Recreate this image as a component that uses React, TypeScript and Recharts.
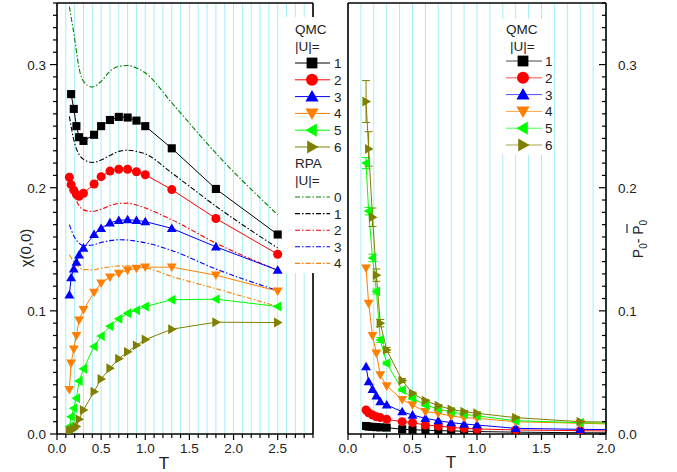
import React from "react";
import {
  LineChart,
  Line,
  XAxis,
  YAxis,
  CartesianGrid,
  ReferenceLine,
  ErrorBar,
} from "recharts";

const FONT = '"Liberation Sans", Arial, Helvetica, sans-serif';
const INK = "#222";
const GRID = "#a4eef5";

// temperatures of the QMC runs (both panels)
const temps = [0.14, 0.16, 0.19, 0.22, 0.25, 0.3, 0.42, 0.5, 0.6, 0.7, 0.8, 0.9, 1.0, 1.3, 1.8, 2.5];

// left panel: chi(0,0), QMC, |U| = 1..6
const chiU1 = [null, 0.276, 0.264, 0.25, 0.241, 0.238, 0.243, 0.25, 0.255, 0.2575, 0.257, 0.2545, 0.25, 0.232, 0.199, 0.162];
const chiU2 = [0.2085, 0.2025, 0.198, 0.1945, 0.193, 0.1955, 0.203, 0.209, 0.2135, 0.215, 0.215, 0.213, 0.2105, 0.1985, 0.175, 0.146];
const chiU3 = [0.113, 0.127, 0.134, 0.1395, 0.1455, 0.151, 0.162, 0.167, 0.1715, 0.1735, 0.174, 0.1735, 0.1725, 0.167, 0.152, 0.133];
const chiU4 = [0.036, 0.0575, 0.069, 0.08, 0.0925, 0.101, 0.115, 0.1225, 0.1275, 0.1305, 0.133, 0.1345, 0.1355, 0.1355, 0.129, 0.116];
const chiU5 = [0.006, 0.014, 0.021, 0.029, 0.043, 0.053, 0.071, 0.0795, 0.0875, 0.0935, 0.098, 0.1005, 0.1035, 0.109, 0.1095, 0.1035];
const chiU6 = [0.002, 0.003, 0.004, 0.006, 0.012, 0.0195, 0.0344, 0.0447, 0.0534, 0.0612, 0.0667, 0.072, 0.0767, 0.0851, 0.0908, 0.0905];

// left panel: RPA curves, |U| = 0..4
const rpaT = [0.14, 0.2, 0.25, 0.3, 0.4, 0.5, 0.6, 0.7, 0.8, 0.9, 1.0, 1.3, 1.8, 2.5];
const rpaU0 = [0.347, 0.321, 0.297, 0.2864, 0.2818, 0.2864, 0.2946, 0.2986, 0.2992, 0.2973, 0.2933, 0.269, 0.228, 0.178];
const rpaU1 = [0.258, 0.236, 0.227, 0.223, 0.2205, 0.2225, 0.2262, 0.2295, 0.2305, 0.2295, 0.2275, 0.212, 0.185, 0.151];
const rpaU2 = [0.205, 0.193, 0.1855, 0.182, 0.1808, 0.1825, 0.1855, 0.1872, 0.1875, 0.186, 0.1835, 0.174, 0.155, 0.133];
const rpaU3 = [0.17, 0.1595, 0.155, 0.153, 0.1535, 0.1555, 0.157, 0.1577, 0.1575, 0.1565, 0.1553, 0.149, 0.134, 0.1165];
const rpaU4 = [0.1455, 0.139, 0.1355, 0.1335, 0.1333, 0.1345, 0.1357, 0.1365, 0.1366, 0.136, 0.135, 0.128, 0.118, 0.1035];

// right panel: P0 - P0bar, QMC, |U| = 1..6
const dpU1 = [0.0065, 0.006, 0.0058, 0.0056, 0.0054, 0.0052, 0.0038, 0.0035, 0.003, 0.0027, 0.0025, 0.0023, 0.002, 0.0015, 0.001, 0.0008];
const dpU2 = [0.0195, 0.0173, 0.0154, 0.014, 0.0133, 0.0119, 0.01, 0.0092, 0.0073, 0.0065, 0.0054, 0.0046, 0.0041, 0.0033, 0.0027, 0.002];
const dpU3 = [0.0547, 0.0425, 0.0363, 0.0309, 0.0263, 0.0236, 0.0181, 0.0154, 0.0127, 0.0108, 0.0092, 0.0081, 0.0073, 0.0046, 0.0038, 0.003];
const dpU4 = [0.1347, 0.106, 0.08, 0.0656, 0.048, 0.039, 0.028, 0.0236, 0.0181, 0.0168, 0.0146, 0.0133, 0.0127, 0.01, 0.0087, 0.007];
const dpU5 = [0.22, 0.181, 0.143, 0.1157, 0.0764, 0.0575, 0.0358, 0.029, 0.0236, 0.0203, 0.018, 0.016, 0.0147, 0.0108, 0.0092, 0.008];
const dpU6 = [0.27, 0.2315, 0.176, 0.129, 0.09, 0.0683, 0.0435, 0.033, 0.0271, 0.023, 0.02, 0.0181, 0.0168, 0.0133, 0.01, 0.009];
// error bars (the T = 2.5 point lies off this panel, so none there)
const errU5 = [0.0045, 0.003, 0.003, 0.002, 0.002, 0.0015, 0.001, 0.001, 0.001, 0.001, 0.001, 0.001, 0.001, 0.001, 0.001, null];
const errU6 = [0.017, 0.014, 0.0075, 0.005, 0.003, 0.002, 0.0015, 0.001, 0.001, 0.001, 0.001, 0.001, 0.001, 0.001, 0.001, null];

const qmcLabels = ["1", "2", "3", "4", "5", "6"];
const rpaLabels = ["0", "1", "2", "3", "4"];

const QMC = [
  { key: "u1", color: "#000000", shape: "square" },
  { key: "u2", color: "#ff0000", shape: "circle" },
  { key: "u3", color: "#0000ff", shape: "up" },
  { key: "u4", color: "#ff8000", shape: "down" },
  { key: "u5", color: "#00ff00", shape: "left" },
  { key: "u6", color: "#808000", shape: "right" },
];
const RPA_COLORS = ["#008000", "#000000", "#ff0000", "#0000ff", "#ff8000"];
const DASH = "5 2 1.5 2";

const chiSeries = [chiU1, chiU2, chiU3, chiU4, chiU5, chiU6];
const dpSeries = [dpU1, dpU2, dpU3, dpU4, dpU5, dpU6];
const rpaSeries = [rpaU0, rpaU1, rpaU2, rpaU3, rpaU4];

const leftRows = temps.map((t, i) => {
  const row: any = { t };
  QMC.forEach((s, k) => (row[s.key] = chiSeries[k][i]));
  return row;
});
const rightRows = temps.map((t, i) => {
  const row: any = { t, e5: errU5[i], e6: errU6[i] };
  QMC.forEach((s, k) => (row[s.key] = dpSeries[k][i]));
  return row;
});
const rpaRows = rpaSeries.map((vals) => rpaT.map((t, i) => ({ t, v: vals[i] })));

const yTicks = Array.from({ length: 36 }, (_, i) => i / 100);
const xTicksLeft = Array.from({ length: 30 }, (_, i) => i / 10);
const xTicksRight = Array.from({ length: 21 }, (_, i) => i / 10);

function Marker({ shape, x, y, size, color }: any) {
  const h = size / 2;
  const pts = (a: number[][]) => a.map((p) => `${x + p[0]},${y + p[1]}`).join(" ");
  switch (shape) {
    case "square":
      return <rect x={x - h * 0.9} y={y - h * 0.9} width={size * 0.9} height={size * 0.9} fill={color} />;
    case "circle":
      return <circle cx={x} cy={y} r={h} fill={color} />;
    case "up":
      return <polygon points={pts([[0, -h * 1.1], [-h * 1.1, h * 0.8], [h * 1.1, h * 0.8]])} fill={color} />;
    case "down":
      return <polygon points={pts([[0, h * 1.1], [-h * 1.1, -h * 0.8], [h * 1.1, -h * 0.8]])} fill={color} />;
    case "left":
      return <polygon points={pts([[-h * 1.1, 0], [h * 0.8, -h * 1.1], [h * 0.8, h * 1.1]])} fill={color} />;
    default:
      return <polygon points={pts([[h * 1.1, 0], [-h * 0.8, -h * 1.1], [-h * 0.8, h * 1.1]])} fill={color} />;
  }
}

const makeDot = (shape: string, color: string) => (p: any) => {
  if (p.cx == null || p.cy == null || p.value == null || Number.isNaN(p.cy))
    return <g key={`n${p.index}`} />;
  return (
    <g key={`d${p.index}`}>
      <Marker shape={shape} x={p.cx} y={p.cy} size={9} color={color} />
    </g>
  );
};

const isMajor = (v: number, step: number) => Math.abs(v / step - Math.round(v / step)) < 1e-6;

function LeftTick(p: any) {
  const { x, y, payload } = p;
  const major = isMajor(payload.value, 0.1);
  return (
    <g>
      <line x1={x - (major ? 7 : 4)} x2={x} y1={y} y2={y} stroke="#000" strokeWidth={1.2} />
      {major && (
        <text x={x - 11} y={y + 5} textAnchor="end" fontSize={13.5} fontFamily={FONT} fill={INK}>
          {payload.value.toFixed(1)}
        </text>
      )}
    </g>
  );
}

function RightTick(p: any) {
  const { x, y, payload } = p;
  const major = isMajor(payload.value, 0.1);
  return (
    <g>
      <line x1={x - (major ? 7 : 4)} x2={x} y1={y} y2={y} stroke="#000" strokeWidth={1.2} />
      {major && (
        <text x={x + 12} y={y + 5} textAnchor="start" fontSize={13.5} fontFamily={FONT} fill={INK}>
          {payload.value.toFixed(1)}
        </text>
      )}
    </g>
  );
}

function BottomTick(p: any) {
  const { x, y, payload } = p;
  const major = isMajor(payload.value, 0.5);
  return (
    <g>
      <line x1={x} x2={x} y1={y} y2={y + (major ? 6 : 4)} stroke="#000" strokeWidth={1.2} />
      {major && (
        <text x={x} y={y + 19} textAnchor="middle" fontSize={13.5} fontFamily={FONT} fill={INK}>
          {payload.value.toFixed(1)}
        </text>
      )}
    </g>
  );
}

const AXIS = { stroke: "#000", strokeWidth: 1.6 };

function LeftPanel() {
  return (
    <LineChart width={340} height={472} data={leftRows} margin={{ top: 3, right: 27, bottom: 0, left: 0 }}>
      <CartesianGrid horizontal={false} stroke={GRID} strokeWidth={1} />
      <XAxis
        type="number"
        dataKey="t"
        domain={[0, 2.9]}
        ticks={xTicksLeft}
        interval={0}
        allowDataOverflow
        height={38}
        tickLine={false}
        tickSize={0}
        tickMargin={0}
        axisLine={AXIS}
        tick={(p: any) => <BottomTick {...p} />}
      />
      <YAxis
        type="number"
        domain={[0, 0.35]}
        ticks={yTicks}
        interval={0}
        allowDataOverflow
        width={57}
        tickLine={false}
        tickSize={0}
        tickMargin={0}
        axisLine={AXIS}
        tick={(p: any) => <LeftTick {...p} />}
      />
      <ReferenceLine y={0.35} stroke="#000" strokeWidth={1.6} />
      <ReferenceLine x={2.9} stroke="#000" strokeWidth={1.6} />
      {rpaRows.map((rows, k) => (
        <Line
          key={`rpa${k}`}
          data={rows}
          dataKey="v"
          type="monotone"
          stroke={RPA_COLORS[k]}
          strokeWidth={1.1}
          strokeDasharray={DASH}
          dot={false}
          activeDot={false}
          isAnimationActive={false}
        />
      ))}
      {QMC.map((s) => (
        <Line
          key={s.key}
          dataKey={s.key}
          type="linear"
          stroke={s.color}
          strokeWidth={1}
          dot={makeDot(s.shape, s.color)}
          activeDot={false}
          isAnimationActive={false}
        />
      ))}
    </LineChart>
  );
}

function RightPanel() {
  return (
    <LineChart width={347} height={472} data={rightRows} margin={{ top: 3, right: 0, bottom: 0, left: 18 }}>
      <CartesianGrid horizontal={false} stroke={GRID} strokeWidth={1} />
      <XAxis
        type="number"
        dataKey="t"
        domain={[0, 2]}
        ticks={xTicksRight}
        interval={0}
        allowDataOverflow
        height={38}
        tickLine={false}
        tickSize={0}
        tickMargin={0}
        axisLine={AXIS}
        tick={(p: any) => <BottomTick {...p} />}
      />
      <YAxis
        type="number"
        orientation="right"
        domain={[0, 0.35]}
        ticks={yTicks}
        interval={0}
        allowDataOverflow
        width={71}
        tickLine={false}
        tickSize={0}
        tickMargin={0}
        axisLine={AXIS}
        tick={(p: any) => <RightTick {...p} />}
      />
      <ReferenceLine y={0.35} stroke="#000" strokeWidth={1.6} />
      <ReferenceLine x={0} stroke="#000" strokeWidth={1.6} />
      {QMC.map((s, k) => (
        <Line
          key={s.key}
          dataKey={s.key}
          type="linear"
          stroke={s.color}
          strokeWidth={1}
          dot={makeDot(s.shape, s.color)}
          activeDot={false}
          isAnimationActive={false}
        >
          {k === 4 && (
            <ErrorBar dataKey="e5" width={4} stroke={s.color} strokeWidth={1} direction="y" isAnimationActive={false} />
          )}
          {k === 5 && (
            <ErrorBar dataKey="e6" width={4} stroke={s.color} strokeWidth={1} direction="y" isAnimationActive={false} />
          )}
        </Line>
      ))}
    </LineChart>
  );
}

function Overlay() {
  const txt = { fontFamily: FONT, fontSize: 13.5, fill: INK };
  return (
    <svg width={677} height={472} style={{ position: "absolute", left: 0, top: 0, pointerEvents: "none" }}>
      {/* left legend */}
      <rect x={285} y={17} width={60} height={256} fill="#fff" />
      <text x={295} y={34} {...txt}>QMC</text>
      <text x={295} y={51} {...txt}>|U|=</text>
      {QMC.map((s, i) => {
        const cy = 63 + i * 16.8;
        return (
          <g key={s.key}>
            <line x1={295} x2={330} y1={cy} y2={cy} stroke={s.color} strokeWidth={1} />
            <Marker shape={s.shape} x={312} y={cy} size={12} color={s.color} />
            <text x={334} y={cy + 5} {...txt}>{qmcLabels[i]}</text>
          </g>
        );
      })}
      <text x={295} y={168} {...txt}>RPA</text>
      <text x={295} y={185} {...txt}>|U|=</text>
      {RPA_COLORS.map((c, i) => {
        const cy = 197 + i * 16.6;
        return (
          <g key={`rl${i}`}>
            <line x1={295} x2={330} y1={cy} y2={cy} stroke={c} strokeWidth={1.1} strokeDasharray={DASH} />
            <text x={334} y={cy + 5} {...txt}>{rpaLabels[i]}</text>
          </g>
        );
      })}

      {/* right legend */}
      <rect x={498} y={19} width={55} height={136} fill="#fff" />
      <text x={506} y={34} {...txt}>QMC</text>
      <text x={510} y={51} {...txt}>|U|=</text>
      {QMC.map((s, i) => {
        const cy = 61 + i * 16.8;
        return (
          <g key={`r${s.key}`}>
            <line x1={506} x2={542} y1={cy} y2={cy} stroke={s.color} strokeWidth={1} opacity={0.7} />
            <Marker shape={s.shape} x={523} y={cy} size={12} color={s.color} />
            <text x={545} y={cy + 5} {...txt}>{qmcLabels[i]}</text>
          </g>
        );
      })}

      {/* axis titles */}
      <text x={164} y={469} textAnchor="middle" fontFamily={FONT} fontSize={17} fill={INK}>T</text>
      <text x={451} y={468} textAnchor="middle" fontFamily={FONT} fontSize={17} fill={INK}>T</text>
      <text
        x={31}
        y={248}
        transform="rotate(-90 31 248)"
        textAnchor="middle"
        fontFamily={FONT}
        fontSize={15}
        fill={INK}
      >
        χ(0,0)
      </text>
      <g transform="translate(643 239) rotate(-90)">
        <text x={0} y={0} textAnchor="middle" fontFamily={FONT} fontSize={14} fill={INK}>
          P<tspan fontSize={10} dy={4}>0</tspan>
          <tspan dy={-4}>- P</tspan>
          <tspan fontSize={10} dy={4}>0</tspan>
        </text>
        <line x1={6} x2={15} y1={-16} y2={-16} stroke={INK} strokeWidth={1.2} />
      </g>
    </svg>
  );
}

export default function App() {
  return (
    <div style={{ position: "absolute", left: 0, top: 0, width: 677, height: 472, background: "#fff" }}>
      <div style={{ position: "absolute", left: 0, top: 0 }}>
        <LeftPanel />
      </div>
      <div style={{ position: "absolute", left: 330, top: 0 }}>
        <RightPanel />
      </div>
      <Overlay />
    </div>
  );
}
